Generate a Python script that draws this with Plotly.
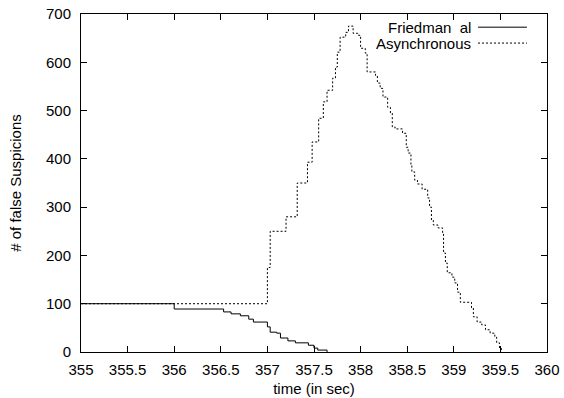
import plotly.graph_objects as go

# Friedman et al: step series (time, value held from that time)
friedman_t = [355.0, 356.0, 356.53, 356.61, 356.71, 356.80, 356.85, 357.0, 357.03, 357.10,
              357.14, 357.22, 357.30, 357.44, 357.50, 357.54, 357.64]
friedman_v = [100, 89, 83, 79, 75, 68, 62, 52, 41, 39, 29, 23, 19, 14, 8, 4, 0]

# Asynchronous: step series
async_t = [355.0, 357.0, 357.03, 357.20, 357.32, 357.43, 357.48, 357.55, 357.60, 357.64,
           357.70, 357.73, 357.75, 357.78, 357.84, 357.87, 357.92, 357.97, 358.00, 358.05,
           358.07, 358.16, 358.18, 358.21, 358.24, 358.29, 358.32, 358.34, 358.37, 358.45,
           358.49, 358.51, 358.54, 358.55, 358.58, 358.61, 358.66, 358.72, 358.74, 358.76,
           358.78, 358.83, 358.88, 358.89, 358.91, 358.93, 358.98, 359.01, 359.04, 359.07,
           359.19, 359.21, 359.25, 359.30, 359.34, 359.39, 359.44, 359.46, 359.49, 359.51]
async_v = [100, 175, 250, 280, 350, 393, 435, 484, 518, 542,
           567, 590, 621, 652, 662, 675, 660, 656, 629, 619,
           580, 573, 557, 546, 528, 507, 495, 466, 462, 453,
           424, 412, 387, 373, 356, 348, 337, 319, 300, 273,
           263, 257, 246, 205, 184, 164, 155, 143, 124, 103,
           91, 73, 62, 56, 46, 39, 31, 19, 8, 0]

x_ticks = [355, 355.5, 356, 356.5, 357, 357.5, 358, 358.5, 359, 359.5, 360]
x_tick_labels = ["355", "355.5", "356", "356.5", "357", "357.5", "358", "358.5", "359", "359.5", "360"]
y_ticks = [0, 100, 200, 300, 400, 500, 600, 700]

legend_names = ["Friedman\u00a0\u00a0al", "Asynchronous"]

FONT = "Liberation Sans, Arial, sans-serif"
FS = 15

fig = go.Figure()
fig.add_trace(go.Scatter(x=async_t, y=async_v, mode="lines", line_shape="hv",
                         line=dict(color="black", width=1, dash="2px,2px"),
                         name=legend_names[1], showlegend=False))
fig.add_trace(go.Scatter(x=friedman_t, y=friedman_v, mode="lines", line_shape="hv",
                         line=dict(color="black", width=1),
                         name=legend_names[0], showlegend=False))

# manual legend (text then line sample, gnuplot style)
leg_y = [0.961, 0.914]
dashes = ["solid", "2px,2px"]
for name, yy, d in zip(legend_names, leg_y, dashes):
    fig.add_annotation(x=0.841, y=yy, xref="paper", yref="paper", text=name,
                       showarrow=False, xanchor="right", yanchor="middle",
                       font=dict(family=FONT, size=FS, color="black"))
    fig.add_shape(type="line", xref="paper", yref="paper", x0=0.852, x1=0.957,
                  y0=yy, y1=yy, line=dict(color="black", width=1, dash=d))

fig.update_xaxes(range=[355, 360], tickvals=x_ticks, ticktext=x_tick_labels,
                 ticks="inside", ticklen=6, tickcolor="black", showline=True,
                 linecolor="black", linewidth=1, mirror="allticks", showgrid=False,
                 zeroline=False, ticklabelstandoff=4,
                 tickfont=dict(family=FONT, size=FS, color="black"),
                 title=dict(text="time (in sec)", font=dict(family=FONT, size=FS, color="black"),
                            standoff=6))
fig.update_yaxes(range=[0, 700], tickvals=y_ticks, ticks="inside", ticklen=6,
                 tickcolor="black", showline=True, linecolor="black", linewidth=1,
                 mirror="allticks", showgrid=False, zeroline=False, ticklabelstandoff=6,
                 tickfont=dict(family=FONT, size=FS, color="black"),
                 title=dict(text="# of false Suspicions", font=dict(family=FONT, size=FS, color="black"),
                            standoff=20))

fig.update_layout(width=564, height=398, margin=dict(l=81, r=17, t=14, b=46, autoexpand=False),
                  plot_bgcolor="white", paper_bgcolor="white", showlegend=False,
                  hovermode=False)

fig.write_html("out.html", config={"displayModeBar": False, "staticPlot": True},
               post_script="document.body.style.margin='0px';document.body.style.overflow='hidden';")
